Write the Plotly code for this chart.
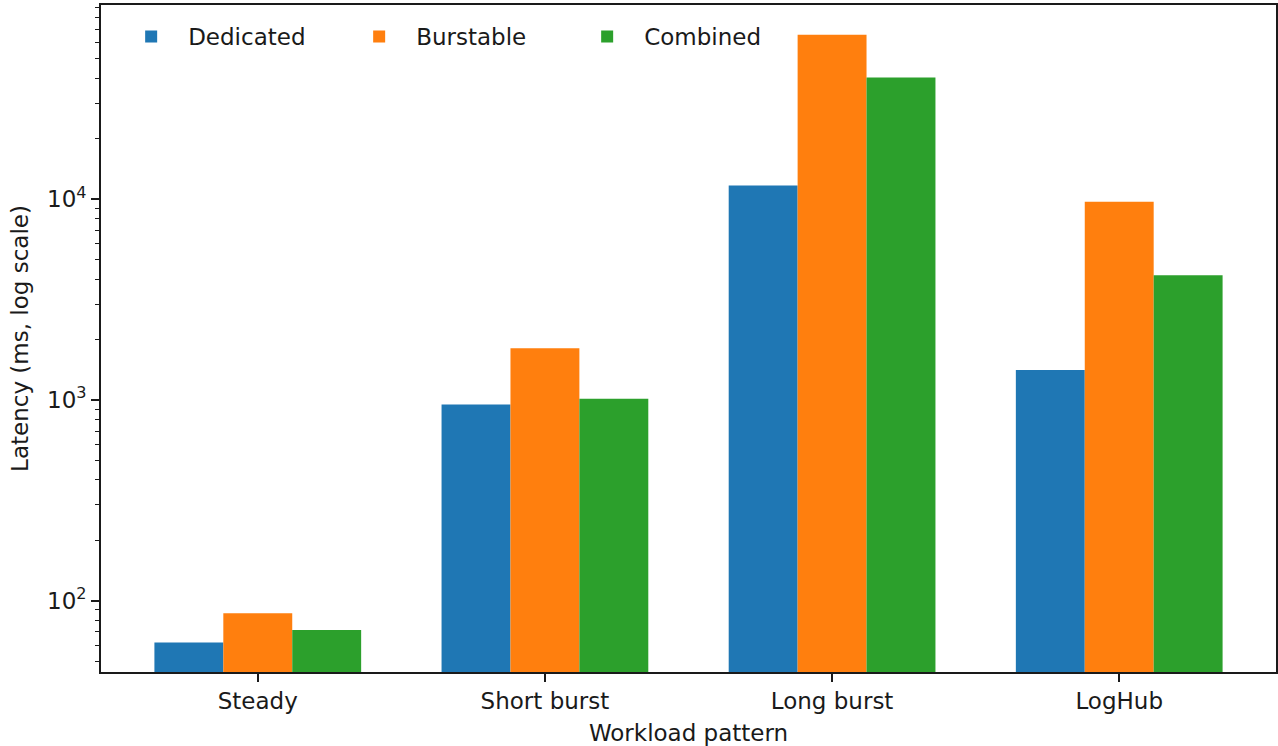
import plotly.graph_objects as go

categories = ["Steady", "Short burst", "Long burst", "LogHub"]
dedicated = [62, 950, 11700, 1410]
burstable = [86.5, 1810, 65900, 9700]
combined = [71.5, 1015, 40400, 4180]

series_names = ["Dedicated", "Burstable", "Combined"]
series_colors = ["#1f77b4", "#ff7f0e", "#2ca02c"]

major_vals = [100, 1000, 10000]
major_text = ["10<sup>2</sup>", "10<sup>3</sup>", "10<sup>4</sup>"]
minor_vals = [m * 10 ** e for e in range(1, 5) for m in range(2, 10)]

FONT = "DejaVu Sans"
FS = 23
TXT = "#1a1a1a"

fig = go.Figure()
for name, vals, col in zip(series_names, [dedicated, burstable, combined], series_colors):
    fig.add_trace(go.Bar(
        x=categories, y=vals, name=name,
        marker=dict(color=col, line=dict(width=0)),
    ))

fig.update_layout(
    width=1278, height=746,
    margin=dict(l=101, r=2, t=5, b=74, autoexpand=False),
    paper_bgcolor="white", plot_bgcolor="white",
    barmode="group", bargap=0.28, bargroupgap=0,
    font=dict(family=FONT, size=FS, color=TXT),
    showlegend=True,
    legend=dict(
        orientation="h", x=0.0112, y=0.985, xanchor="left", yanchor="top",
        bgcolor="rgba(0,0,0,0)", borderwidth=0,
        font=dict(family=FONT, size=FS, color=TXT),
        entrywidth=149, entrywidthmode="pixels", itemwidth=64,
        traceorder="normal",
    ),
)

fig.update_xaxes(
    range=[-0.546, 3.546], automargin=False,
    showline=True, linecolor=TXT, linewidth=1.6, mirror=True,
    ticks="outside", ticklen=8, tickwidth=1.6, tickcolor=TXT,
    showgrid=False, zeroline=False,
    tickfont=dict(family=FONT, size=FS, color=TXT),
    title=dict(text="Workload pattern", font=dict(family=FONT, size=FS, color=TXT), standoff=11),
)

fig.update_yaxes(
    type="log", range=[1.645, 4.967], automargin=False,
    showline=True, linecolor=TXT, linewidth=1.6, mirror=True,
    tickmode="array", tickvals=major_vals, ticktext=major_text,
    ticks="outside", ticklen=8, tickwidth=1.6, tickcolor=TXT,
    minor=dict(tickmode="array", tickvals=minor_vals, ticks="outside", ticklen=4.5,
               tickwidth=1.2, tickcolor=TXT, showgrid=False),
    showgrid=False, zeroline=False,
    tickfont=dict(family=FONT, size=FS, color=TXT),
    title=dict(text="Latency (ms, log scale)", font=dict(family=FONT, size=FS, color=TXT), standoff=12),
)

fig.write_html(
    "out.html",
    config={"displayModeBar": False},
    post_script="document.body.style.margin='0';document.body.style.padding='0';",
)
